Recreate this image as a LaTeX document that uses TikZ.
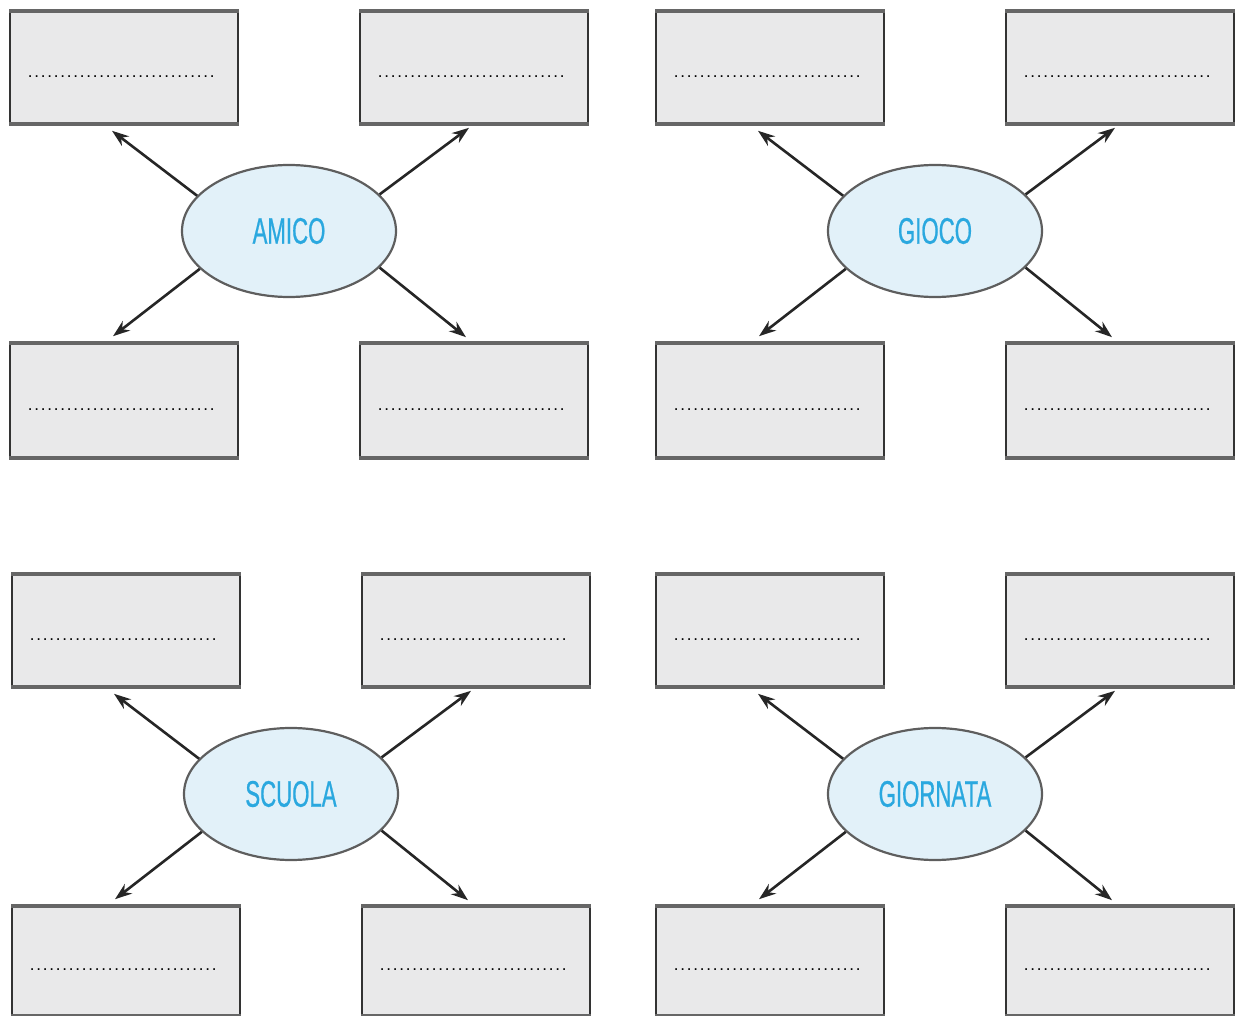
\documentclass[tikz,border=0pt]{standalone}
\usepackage{fontspec}
\setmainfont{Liberation Sans}
\newfontfamily\labfont[FakeStretch=0.6,FakeBold=0.6]{Liberation Sans}
\usetikzlibrary{arrows.meta,shapes.geometric}
\definecolor{boxfill}{HTML}{E9E9EA}
\definecolor{boxside}{HTML}{333333}
\definecolor{boxedge}{HTML}{666666}
\definecolor{bubblefill}{HTML}{E2F1F9}
\definecolor{bubbleline}{HTML}{5E5E5E}
\definecolor{wordcol}{HTML}{2AA8DF}
\definecolor{arrowcol}{HTML}{262626}
\newcommand{\fillline}{\hbox to 194pt{\leaders\hbox to 6.5pt{\hss.\hss}\hfill}}
\tikzset{
  ebox/.style={rectangle, draw=boxside, line width=1.6pt, fill=boxfill,
    minimum width=228pt, inner sep=0pt},
  edgeline/.style={draw=boxedge, line width=3.5pt},
  dotsnode/.style={inner sep=0pt, font=\fontsize{17}{17}\selectfont, text=black},
  bubble/.style={ellipse, draw=bubbleline, line width=2.2pt, fill=bubblefill,
    minimum width=214pt, minimum height=132pt, inner sep=0pt,
    font=\labfont\fontsize{37}{37}\selectfont, text=wordcol},
  arr/.style={draw=arrowcol, line width=2.6pt, -{Stealth[length=17pt,width=12pt]}}
}
\begin{document}
\begin{tikzpicture}[x=1pt,y=-1pt]
\useasboundingbox (0,0) rectangle (1235,1016);
\foreach \g/\dx/\dy/\bc/\bh/\word in {1/0/0/400.5/113/AMICO, 2/646/0/400.5/113/GIOCO, 3/2/563/398/108/SCUOLA, 4/646/563/398/108/GIORNATA}{
\begin{scope}[shift={(\dx,\dy)}]
  \node[ebox, minimum height=111pt] (g\g-a) at (124,67.5) {};
  \node[ebox, minimum height=111pt] (g\g-b) at (474,67.5) {};
  \node[ebox, minimum height=\bh pt] (g\g-c) at (124,\bc) {};
  \node[ebox, minimum height=\bh pt] (g\g-d) at (474,\bc) {};
  \foreach \b in {a,b,c,d}{
    \draw[edgeline] (g\g-\b.north west) -- (g\g-\b.north east);
    \draw[edgeline] (g\g-\b.south west) -- (g\g-\b.south east);
  }
  \node[dotsnode] (g\g-ta) at ([yshift=-9pt]g\g-a.center) {\fillline};
  \node[dotsnode] (g\g-tb) at ([yshift=-9pt]g\g-b.center) {\fillline};
  \node[dotsnode] (g\g-tc) at ([yshift=-9pt]g\g-c.center) {\fillline};
  \node[dotsnode] (g\g-td) at ([yshift=-9pt]g\g-d.center) {\fillline};
  \node[bubble] (g\g-e) at (289,231) {\word};
  \draw[arr] (g\g-e.159) -- ([xshift=-12pt,yshift=-7pt]g\g-a.south);
  \draw[arr] (g\g-e.22) -- ([xshift=-5pt,yshift=-4pt]g\g-b.south);
  \draw[arr] (g\g-e.203) -- ([xshift=-11pt,yshift=7pt]g\g-c.north);
  \draw[arr] (g\g-e.338) -- ([xshift=-8pt,yshift=6pt]g\g-d.north);
\end{scope}
}
\end{tikzpicture}
\end{document}
